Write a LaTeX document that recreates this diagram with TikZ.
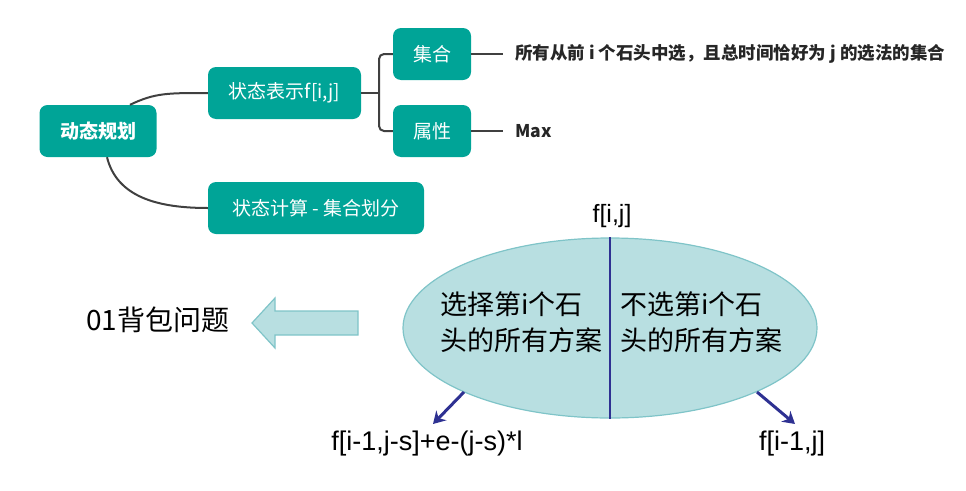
\documentclass[tikz,border=0pt]{standalone}
\usepackage{fontspec}
\setmainfont{Liberation Sans}
\newfontfamily\cjk{Noto Sans CJK SC}
\usetikzlibrary{arrows.meta,shapes.geometric}
\definecolor{teal1}{HTML}{00A497}
\definecolor{conn}{HTML}{404040}
\definecolor{ellfill}{HTML}{B8DFE1}
\definecolor{elldraw}{HTML}{7FC4C8}
\definecolor{navy}{HTML}{2E3192}
\tikzset{
  mbox/.style={rectangle, rounded corners=8, fill=teal1, text=white, minimum height=52, inner sep=0pt, font=\cjk\fontsize{19}{22}\selectfont},
  conline/.style={draw=conn, line width=2},
  leaf/.style={anchor=west, inner sep=0pt, text=black!85, font=\cjk\bfseries\fontsize{17.5}{20}\selectfont},
  plain/.style={inner sep=0pt, font=\fontsize{27}{30}\selectfont},
  sel/.style={draw=navy, line width=3, -{Stealth[length=12, width=14]}}
}
\begin{document}
\begin{tikzpicture}[x=1pt,y=-1pt]
\useasboundingbox (0,0) rectangle (966,490);
% mind map
\node[mbox, minimum width=117, font=\cjk\bfseries\fontsize{19}{22}\selectfont] (root) at (98,131) {动态规划};
\node[mbox, minimum width=153] (rep) at (284.5,93) {状态表示f[i,j]};
\node[mbox, minimum width=78] (set) at (432,54) {集合};
\node[mbox, minimum width=78] (attr) at (432,131) {属性};
\node[mbox, minimum width=216] (calc) at (316,208) {状态计算 - 集合划分};
\node[leaf] (setl) at (515,54) {所有从前 i 个石头中选，且总时间恰好为 j 的选法的集合};
\node[leaf] (maxl) at (515,131) {Max};
\coordinate (br) at (379,93);
\draw[conline] ([xshift=32]root.north) .. controls +(25,-12) and +(-40,0) .. (rep.west);
\draw[conline] ([xshift=9]root.south) .. controls +(10,40) and +(-50,0) .. (calc.west);
\draw[conline] (rep.east) -- (br);
\draw[conline, rounded corners=5] (set.west) -| (br) |- (attr.west);
\draw[conline] (set.east) -- ([xshift=-12]setl.west);
\draw[conline] (attr.east) -- ([xshift=-12]maxl.west);
% set partition
\node[ellipse, draw=elldraw, line width=1.2, fill=ellfill, minimum width=414, minimum height=180, inner sep=0pt] (ell) at (610,328) {};
\draw[navy, line width=1.5] (ell.north) -- (ell.south);
\node[plain, anchor=south, font=\fontsize{25}{28}\selectfont] (fij) at (612,228) {f[i,j]};
\node[inner sep=0pt, anchor=west, align=left, font=\cjk\fontsize{27}{36}\selectfont] (lt) at (440,322) {选择第i个石\\头的所有方案};
\node[inner sep=0pt, anchor=west, align=left, font=\cjk\fontsize{27}{36}\selectfont] (rt) at (620,322) {不选第i个石\\头的所有方案};
\node[plain] (lf) at (427,444) {f[i-1,j-s]+e-(j-s)*l};
\node[plain] (rf) at (792,444) {f[i-1,j]};
\coordinate (ls) at ([shift={(-146,64)}]ell.center);
\coordinate (rs) at ([shift={(147,64)}]ell.center);
\coordinate (le) at (433,424);
\coordinate (re) at (795,424);
\draw[sel] (ls) -- (le);
\draw[sel] (rs) -- (re);
% block arrow
\node[inner sep=0pt, anchor=west, font=\cjk\fontsize{28}{32}\selectfont] (ks) at (86,320) {01背包问题};
\draw[draw=elldraw, fill=ellfill, line width=1.2] (358,311) -- (275,311) -- (275,298) -- (252,323) -- (275,348) -- (275,335) -- (358,335) -- cycle;
\end{tikzpicture}
\end{document}
